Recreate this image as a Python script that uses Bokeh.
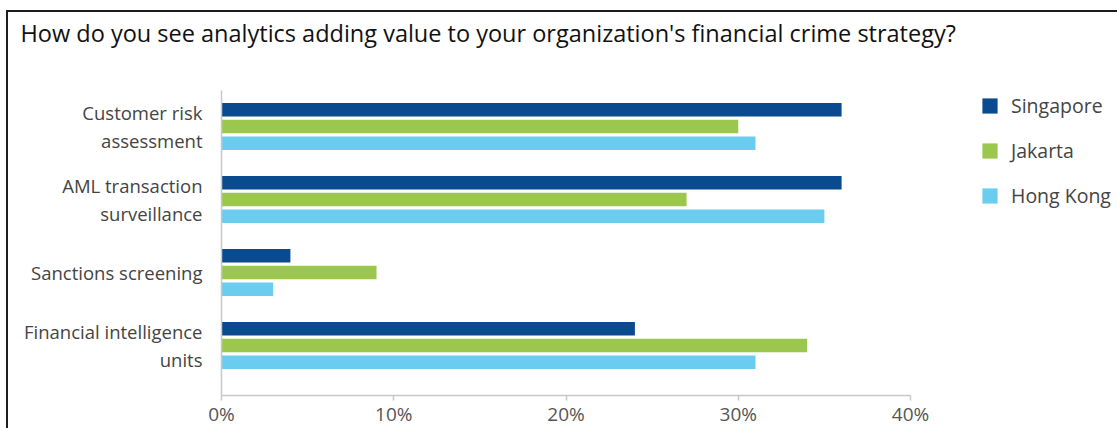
from bokeh.plotting import figure
from bokeh.models import (Range1d, FixedTicker, PrintfTickFormatter, Legend, LegendItem,
                          ColumnDataSource, Label)
from bokeh.embed import file_html
from bokeh.resources import INLINE

title_text = "How do you see analytics adding value to your organization's financial crime strategy?"
categories = ["Customer risk assessment", "AML transaction surveillance",
              "Sanctions screening", "Financial intelligence units"]
tick_labels = ["Customer risk\nassessment", "AML transaction\nsurveillance",
               "Sanctions screening", "Financial intelligence\nunits"]
series_names = ["Singapore", "Jakarta", "Hong Kong"]
singapore = [36, 36, 4, 24]
jakarta = [30, 27, 9, 34]
hong_kong = [31, 35, 3, 31]
x_ticks = [0, 10, 20, 30, 40]

colors = ["#0a4b8f", "#9cc74f", "#6acdef"]
FONT = "Open Sans"

n = len(categories)
pos = [n - 1 - i for i in range(n)]

p = figure(frame_width=689, frame_height=305, output_backend="svg", toolbar_location=None,
           x_range=Range1d(0, 40), y_range=Range1d(-0.685, 3.493),
           min_border_left=213, min_border_right=207, min_border_top=78,
           min_border_bottom=33)
p.margin = (10, 0, 0, 6)
p.styles = {"border-top": "2px solid #1e1e1e", "border-left": "2px solid #1e1e1e"}
p.outline_line_color = None
p.grid.visible = False
p.background_fill_color = "white"

title = Label(x=-201, y=58, x_units="screen", y_units="screen",
              text=title_text, text_font=FONT, text_font_size="23.5px",
              text_color="#111111", text_align="left", text_baseline="middle")
p.add_layout(title, "above")

offsets = [0.229, 0.0, -0.229]
values = [singapore, jakarta, hong_kong]
items = []
for name, vals, off, col in zip(series_names, values, offsets, colors):
    src = ColumnDataSource(dict(y=[q + off for q in pos], right=vals))
    r = p.hbar(y="y", right="right", left=0, height=0.185, source=src,
               fill_color=col, line_color=None)
    items.append(LegendItem(label=name, renderers=[r]))

# x axis
xa = p.xaxis[0]
xa.ticker = FixedTicker(ticks=x_ticks)
xa.formatter = PrintfTickFormatter(format="%d%%")
xa.axis_line_color = "#c8c8c8"
xa.axis_line_width = 1.5
xa.major_tick_line_color = "#c8c8c8"
xa.major_tick_line_width = 1.5
xa.major_tick_in = 0
xa.major_tick_out = 5
xa.minor_tick_line_color = None
xa.major_label_text_font = FONT
xa.major_label_text_font_size = "19px"
xa.major_label_text_color = "#555555"
xa.major_label_standoff = 0

# y axis
ya = p.yaxis[0]
ya.ticker = FixedTicker(ticks=pos)
ya.major_label_overrides = {q: lab for q, lab in zip(pos, tick_labels)}
ya.axis_line_color = "#c8c8c8"
ya.axis_line_width = 1.5
ya.major_tick_line_color = None
ya.minor_tick_line_color = None
ya.major_tick_out = 0
ya.major_tick_in = 0
ya.major_label_text_font = FONT
ya.major_label_text_font_size = "18.5px"
ya.major_label_text_color = "#444444"
ya.major_label_text_line_height = 1.15
ya.major_label_standoff = 19

legend = Legend(items=items, location=(70, 186))
legend.border_line_color = None
legend.background_fill_alpha = 0
legend.glyph_width = 19
legend.glyph_height = 19
legend.label_text_font = FONT
legend.label_text_font_size = "19.5px"
legend.label_text_color = "#444444"
legend.spacing = 18
legend.padding = 0
legend.margin = 0
legend.label_standoff = 12
p.add_layout(legend, "right")

open("out.html", "w").write(file_html(p, INLINE))
